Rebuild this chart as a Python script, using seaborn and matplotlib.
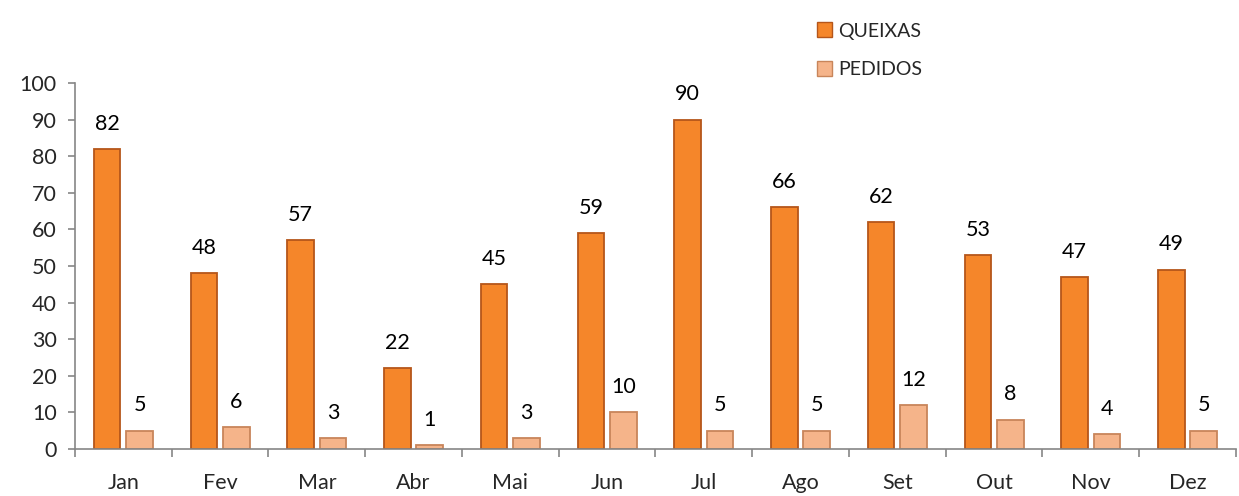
import pandas as pd
import seaborn as sns
import matplotlib.pyplot as plt
from matplotlib.ticker import FixedLocator
from matplotlib.patches import Patch

meses = ["Jan", "Fev", "Mar", "Abr", "Mai", "Jun", "Jul", "Ago", "Set", "Out", "Nov", "Dez"]
queixas = [82, 48, 57, 22, 45, 59, 90, 66, 62, 53, 47, 49]
pedidos = [5, 6, 3, 1, 3, 10, 5, 5, 12, 8, 4, 5]

df = pd.DataFrame({"mes": meses * 2,
                   "valor": queixas + pedidos,
                   "tipo": ["QUEIXAS"] * 12 + ["PEDIDOS"] * 12})

sns.set_style("white")
plt.rcParams['font.family'] = ['Lato', 'DejaVu Sans']

fig = plt.figure(figsize=(12.39, 4.96), dpi=100)
ax = fig.add_axes([0.0605, 0.0948, 0.937, 0.738])

cores = {"QUEIXAS": "#F5862A", "PEDIDOS": "#F5B48A"}
sns.barplot(data=df, x="mes", y="valor", hue="tipo", palette=cores, saturation=1,
            width=0.67, gap=0.18, ax=ax, legend=False)

bordas = ["#B5561A", "#C8855A"]
for cont, borda in zip(ax.containers, bordas):
    for b in cont:
        b.set_edgecolor(borda)
        b.set_linewidth(1.3)
    ax.bar_label(cont, padding=11, fontsize=15.5, color="#000000")

ax.set_ylim(0, 100)
ax.set_xlim(-0.5, 11.5)
ax.set_yticks(range(0, 101, 10))
ax.set_xlabel("")
ax.set_ylabel("")
ax.tick_params(axis="y", labelsize=15.5, length=5, color="#868686", width=1.2, left=True, pad=8)
ax.tick_params(axis="x", which="major", labelsize=15.5, length=0, pad=17)
ax.xaxis.set_minor_locator(FixedLocator([i - 0.5 for i in range(13)]))
ax.tick_params(axis="x", which="minor", length=6, color="#868686", width=1.2, bottom=True)
for s in ["top", "right"]:
    ax.spines[s].set_visible(False)
for s in ["left", "bottom"]:
    ax.spines[s].set_color("#868686")
    ax.spines[s].set_linewidth(1.2)

handles = [Patch(facecolor=cores[k], edgecolor=b) for k, b in zip(["QUEIXAS", "PEDIDOS"], bordas)]
fig.legend(handles, ["QUEIXAS", "PEDIDOS"], loc="upper left", bbox_to_anchor=(0.645, 0.99),
           frameon=False, fontsize=14, labelspacing=1.1, handlelength=0.8, handleheight=0.8,
           handletextpad=0.3)

fig.savefig("out.png", dpi=100)
